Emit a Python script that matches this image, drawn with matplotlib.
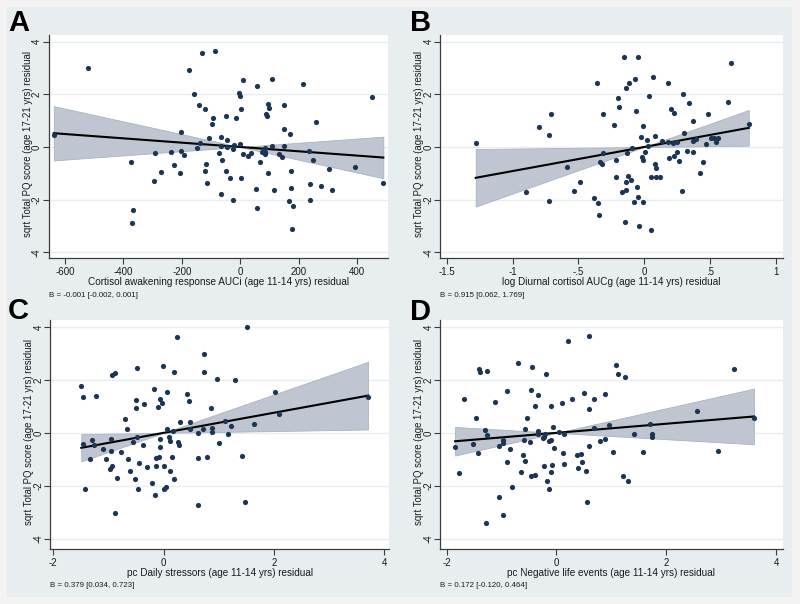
import matplotlib
matplotlib.use('Agg')
import matplotlib.pyplot as plt
import numpy as np
from matplotlib.patches import Rectangle

plt.rcParams['font.family'] = ['Liberation Sans', 'DejaVu Sans']

#~~~~~~~~~~~~~~~~~~
# DATA
#~~~~~~~~~~~~~~~~~~

# A: cortisol awakening response AUCi residual vs sqrt PQ residual
a_x = [-638, -520, -374, -368, -370, -292, -294, -272, -236, -228, -207, -203, -202, -192,
       -175, -160, -148, -142, -138, -131, -120, -122, -118, -113, -107, -95, -96, -85,
       -72, -66, -65, -63, -66, -49, -49, -46, -47, -36, -26, -22, -24, -14, -6, -1,
       -1, 1, 4, 8, 10, 27, 36, 56, 53, 58, 68, 73, 84, 86, 85, 89, 90, 93, 99, 94,
       108, 108, 115, 133, 141, 149, 151, 149, 170, 172, 166, 173, 179, 178, 213, 234,
       238, 238, 248, 258, 276, 304, 313, 391, 449, 489]
a_y = [0.47, 3.01, -0.58, -2.41, -2.89, -0.23, -1.30, -0.95, -0.20, -0.68, -1.00, 0.57, -0.16, -0.29,
       2.91, 2.01, -0.05, 1.61, 0.15, 3.56, 1.43, -0.90, -0.63, -1.37, 0.34, 1.11, 0.87, 3.65,
       -0.23, 0.39, 0.05, -0.51, -1.77, 1.16, -0.91, 0.28, 0.01, -1.16, -0.08, 0.06, -2.01, 1.09, 2.05, 1.92,
       0.13, -1.19, 1.44, 2.54, -0.25, -0.33, -0.22, 2.33, -1.61, -2.30, -0.57, -0.18, -0.20, -0.03, -0.28, 1.25,
       1.16, 1.63, 1.47, -0.97, 2.58, 0.05, -1.63, -0.28, -0.38, 0.68, 1.61, 0.03, 0.49, -0.91, -2.06, -1.54,
       -2.25, -3.11, 2.41, -0.15, -1.42, -2.00, -0.51, 0.94, -1.47, -0.85, -1.65, -0.75, 1.90, -1.37]

# B: log diurnal cortisol AUCg residual
b_x = [-1.280, -0.900, -0.797, -0.721, -0.708, -0.726, -0.584, -0.488, -0.533, -0.382, -0.356, -0.354,
       -0.341, -0.336, -0.323, -0.316, -0.311, -0.227, -0.217, -0.215, -0.197, -0.192, -0.169, -0.156,
       -0.149, -0.141, -0.141, -0.139, -0.131, -0.123, -0.116, -0.098, -0.091, -0.070, -0.060, -0.058,
       -0.075, -0.048, -0.048, -0.043, -0.027, -0.015, -0.012, -0.007, -0.007, 0.006, 0.018, 0.026,
       0.038, 0.049, 0.054, 0.069, 0.079, 0.087, 0.084, 0.089, 0.122, 0.135, 0.180, 0.183, 0.190,
       0.200, 0.216, 0.226, 0.228, 0.246, 0.246, 0.266, 0.286, 0.292, 0.302, 0.324, 0.340, 0.372,
       0.372, 0.372, 0.393, 0.421, 0.448, 0.466, 0.486, 0.507, 0.532, 0.542, 0.557, 0.638, 0.658, 0.793]
b_y = [0.14, -1.71, 0.75, 0.47, 1.24, -2.06, -0.75, -1.34, -1.66, -1.92, 2.43, -2.14,
       -2.58, -0.57, -0.65, 1.27, -0.23, 0.82, -0.51, -1.15, 1.86, 1.52, -1.71, 3.42,
       -2.84, 2.24, -1.33, -1.65, -0.24, -1.10, 2.44, -1.25, -0.04, 2.59, 1.37, -1.52,
       -2.10, 3.41, -1.89, -3.00, 0.38, -0.39, -0.48, 0.80, -2.10, -0.18, 0.27, 0.04,
       1.95, -1.15, -3.15, 2.65, -0.66, -1.15, 0.41, -0.81, -1.15, 0.24, 2.43, 0.20, -0.42,
       1.44, 0.14, -0.35, 1.28, -0.19, 0.20, -0.52, -1.67, 2.00, 0.52, -0.14, 1.66, 0.99,
       0.22, -0.18, 0.29, -1.00, -0.56, 0.11, 1.24, 0.33, 0.33, 0.19, 0.33, 1.72, 3.18, 0.86]

# C: pc daily stressors residual
c_x = [-1.492, -1.462, -1.468, -1.425, -1.335, -1.298, -1.268, -1.220, -1.099, -1.044, -0.978, -0.953,
       -0.947, -0.935, -0.929, -0.875, -0.881, -0.851, -0.778, -0.705, -0.657, -0.645, -0.615, -0.548,
       -0.518, -0.500, -0.494, -0.488, -0.476, -0.452, -0.458, -0.367, -0.349, -0.306, -0.204, -0.173,
       -0.161, -0.143, -0.143, -0.101, -0.089, -0.064, -0.064, -0.058, -0.022, -0.010, 0.002, 0.002,
       0.038, 0.068, 0.068, 0.092, 0.110, 0.110, 0.153, 0.165, 0.189, 0.195, 0.237, 0.268, 0.274,
       0.292, 0.425, 0.456, 0.480, 0.474, 0.619, 0.631, 0.625, 0.716, 0.728, 0.728, 0.789, 0.861,
       0.873, 0.886, 0.970, 1.007, 1.116, 1.176, 1.230, 1.291, 1.430, 1.478, 1.521, 1.648, 2.023,
       2.102, 3.711]
c_y = [1.77, 1.34, -0.43, -2.11, -0.98, -0.26, -0.45, 1.40, -0.61, -1.00, -1.38, -0.68,
       -0.25, 2.20, -1.25, 2.25, -3.03, -1.70, -0.71, 0.52, 0.13, -0.98, -1.46, -0.35,
       -1.73, 0.94, 1.23, -0.16, 2.45, -1.15, -2.11, -0.45, 1.09, -1.29, -1.88, 1.65,
       -2.33, -0.96, -1.26, 0.99, -0.92, -0.22, 1.28, -0.55, 1.11, 2.54, -1.25, -2.11,
       -2.05, 0.14, 1.54, -0.16, -0.31, -1.43, -0.91, 0.06, 2.31, -1.76, 3.61, -0.36, -0.47,
       0.42, 1.45, 1.22, 0.40, 0.15, -2.73, -0.01, -0.94, 0.15, 2.99, 2.30, -0.90, 0.95,
       0.18, 0.02, 2.03, -0.40, 0.45, -0.04, 0.25, 1.98, -0.86, -2.63, 4.00, 0.33, 1.54,
       0.72, 1.34]

# D: pc negative life events residual
d_x = [-1.848, -1.769, -1.690, -1.514, -1.460, -1.423, -1.411, -1.387, -1.308, -1.290, -1.271, -1.259,
       -1.126, -1.047, -1.053, -0.980, -0.974, -0.980, -0.907, -0.901, -0.846, -0.804, -0.707, -0.640,
       -0.610, -0.585, -0.573, -0.567, -0.537, -0.482, -0.464, -0.458, -0.440, -0.391, -0.385, -0.343,
       -0.343, -0.336, -0.251, -0.227, -0.221, -0.203, -0.197, -0.173, -0.142, -0.136, -0.106, -0.106,
       -0.106, -0.075, -0.063, -0.039, 0.046, 0.113, 0.107, 0.131, 0.143, 0.216, 0.289, 0.380, 0.386,
       0.440, 0.459, 0.495, 0.532, 0.550, 0.586, 0.592, 0.592, 0.683, 0.689, 0.787, 0.884, 0.884,
       0.963, 1.024, 1.084, 1.121, 1.206, 1.248, 1.297, 1.406, 1.576, 1.704, 1.734, 1.746, 2.566,
       2.949, 3.228, 3.598]
d_y = [-0.52, -1.51, 1.27, -0.41, 0.55, -0.76, 2.41, 2.31, 0.11, -3.39, -0.08, 2.35,
       1.15, -2.42, -0.48, -3.12, -0.26, -0.37, 1.57, -1.10, -0.60, -2.06, 2.63, -1.49,
       -0.82, -0.26, -1.08, 0.14, 0.55, -0.36, 1.61, -1.64, 2.49, -1.61, 1.00, 1.42,
       0.08, -0.04, -0.21, -1.27, -0.14, -0.04, 2.24, -1.83, -0.32, -2.12, -0.26, -1.49,
       1.01, -1.23, 0.22, -0.57, 0.04, -0.76, 1.14, -0.03, -1.19, 3.47, 1.27, -0.82, -1.33,
       -0.79, -1.09, 1.52, -1.44, -2.60, 3.65, 0.89, -0.48, 1.27, 0.17, -0.30, -0.25, 1.47,
       0.28, -0.71, 2.55, 2.24, -1.63, 2.12, -1.82, -0.06, -0.74, 0.33, -0.04, -0.17, 0.84,
       -0.67, 2.43, 0.57]

# slope and 95% CI of the slope as drawn (line pivots on the residual means)
slopes = [-0.00082, 0.915, 0.379, 0.172]
slope_lo = [-0.00243, 0.062, 0.034, -0.120]
slope_hi = [0.00080, 1.769, 0.723, 0.464]

panel_letters = ['A', 'B', 'C', 'D']
x_titles = ['Cortisol awakening response AUCi (age 11-14 yrs) residual',
            'log Diurnal cortisol AUCg (age 11-14 yrs) residual',
            'pc Daily stressors (age 11-14 yrs) residual',
            'pc Negative life events (age 11-14 yrs) residual']
y_title = 'sqrt Total PQ score (age 17-21 yrs) residual'
notes = ['B = -0.001 [-0.002, 0.001]', 'B = 0.915 [0.062, 1.769]',
         'B = 0.379 [0.034, 0.723]', 'B = 0.172 [-0.120, 0.464]']

x_ticks = [[-600, -400, -200, 0, 200, 400],
           [-1.5, -1, -0.5, 0, 0.5, 1],
           [-2, 0, 2, 4],
           [-2, 0, 2, 4]]
x_ticklabels = [['-600', '-400', '-200', '0', '200', '400'],
                ['-1.5', '-1', '-.5', '0', '.5', '1'],
                ['-2', '0', '2', '4'],
                ['-2', '0', '2', '4']]
y_ticks = [-4, -2, 0, 2, 4]
y_ticklabels = ['-4', '-2', '0', '2', '4']

xlims = [(-656, 505), (-1.551, 1.051), (-2.06, 4.096), (-2.122, 4.122)]
ylims = [(-4.228, 4.253), (-4.228, 4.253), (-4.378, 4.253), (-4.378, 4.253)]

#~~~~~~~~~~
# PLOTTING
#~~~~~~~~~~

W, H = 800, 604
fig = plt.figure(figsize=(W / 100, H / 100), dpi=100)
fig.patch.set_facecolor('#f3f3f3')
fig.patches.append(Rectangle((7 / W, 1 - 597 / H), 785 / W, 590 / H, transform=fig.transFigure,
                             facecolor='#e8eef0', edgecolor='none', zorder=-10))

# plot region boxes in pixels: left, top, right, bottom
boxes = [(48.5, 35, 388, 258.3), (440, 35, 782.7, 258.3),
         (50, 320.3, 389.3, 548.7), (440, 320.3, 782.7, 548.7)]
letter_pos = [(8, 31), (410, 31), (8, 319), (410, 320)]

xs_all = [a_x, b_x, c_x, d_x]
ys_all = [a_y, b_y, c_y, d_y]

navy = '#1c3553'

for i in range(4):
    l, t, r, b = boxes[i]
    ax = fig.add_axes([l / W, 1 - b / H, (r - l) / W, (b - t) / H], zorder=1)
    ax.set_facecolor('white')
    x = np.array(xs_all[i])
    y = np.array(ys_all[i])

    # CI wedge and fitted line, pivoting on (0, 0)
    xx = np.linspace(x.min(), x.max(), 200)
    e1 = slope_lo[i] * xx
    e2 = slope_hi[i] * xx
    ax.fill_between(xx, np.minimum(e1, e2), np.maximum(e1, e2), facecolor='#bfc6d2',
                    edgecolor='#aab3c2', linewidth=0.6, zorder=2)
    ax.plot(xx, slopes[i] * xx, color='black', lw=1.5, zorder=3)
    ax.scatter(x, y, s=14, color=navy, linewidths=0, zorder=4)

    ax.set_xlim(*xlims[i])
    ax.set_ylim(*ylims[i])
    ax.set_xticks(x_ticks[i])
    ax.set_xticklabels(x_ticklabels[i])
    ax.set_yticks(y_ticks)
    ax.set_yticklabels(y_ticklabels, rotation=90, va='center')
    ax.yaxis.grid(True, color='#e6eef0', lw=1.0)
    ax.set_axisbelow(True)
    for s in ['top', 'right']:
        ax.spines[s].set_visible(False)
    for s in ['left', 'bottom']:
        ax.spines[s].set_color('#3c3c3c')
        ax.spines[s].set_linewidth(0.9)
    ax.tick_params(length=4, width=0.8, color='#3c3c3c', labelsize=7, pad=2.5,
                   labelcolor='#1a1a1a')
    ax.tick_params(axis='y', pad=0.8)

    cx = (l + r) / 2
    cy = (t + b) / 2 - 2.5
    fig.text((l - 20.5) / W, 1 - cy / H, y_title, rotation=90, ha='center', va='center',
             fontsize=6.9, color='#1a1a1a')
    fig.text(cx / W, 1 - (b + 24) / H, x_titles[i], ha='center', va='center',
             fontsize=7.2, color='#1a1a1a')
    fig.text((l + 0.5) / W, 1 - (b + 37) / H, notes[i], ha='left', va='center',
             fontsize=5.7, color='#1a1a1a')
    lx, ly = letter_pos[i]
    fig.text(lx / W, 1 - ly / H, panel_letters[i], ha='left', va='baseline',
             fontsize=21, fontweight='bold', color='black')

plt.savefig('out.png', dpi=100, facecolor=fig.get_facecolor())
